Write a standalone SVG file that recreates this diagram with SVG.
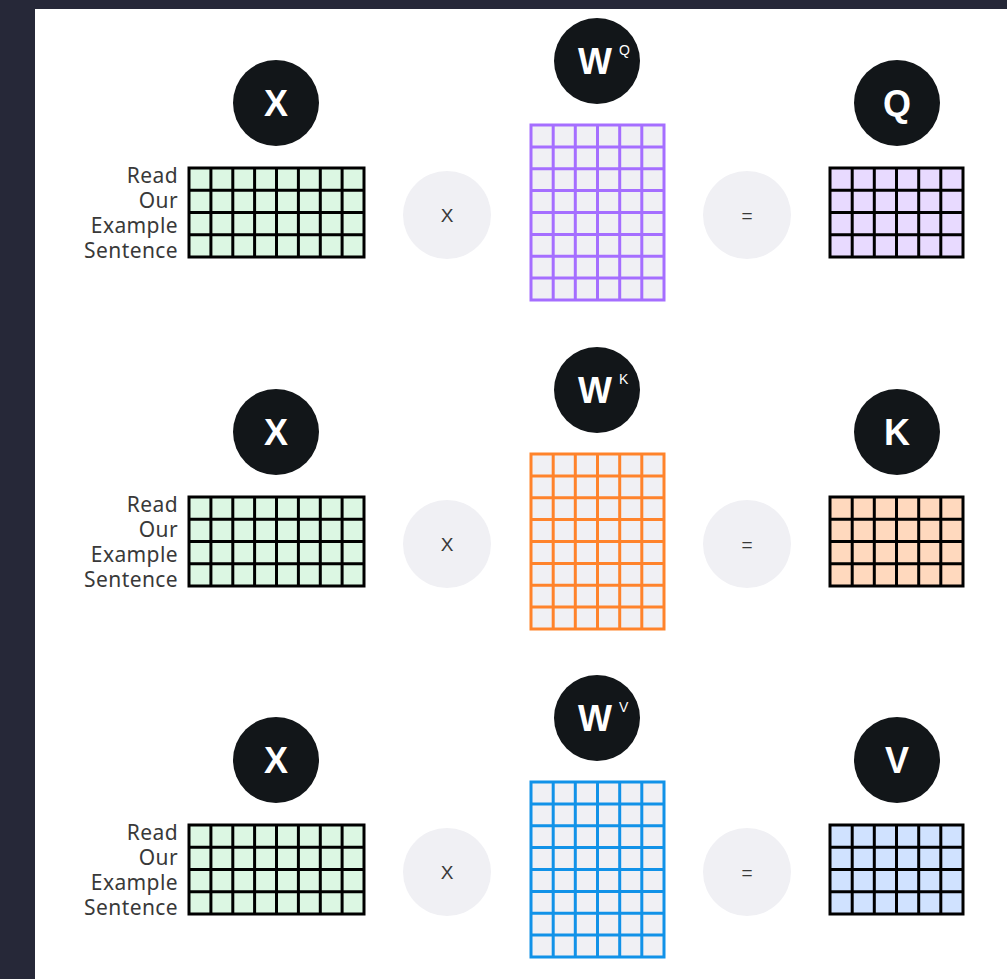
<svg xmlns="http://www.w3.org/2000/svg" width="1007" height="979" viewBox="0 0 1007 979">
<style>
.lbl{font-family:"Noto Sans","Liberation Sans",sans-serif;font-size:21px;fill:#393939;text-anchor:end;letter-spacing:0.4px}
.big{font-family:"Liberation Sans","Noto Sans",sans-serif;font-size:36px;font-weight:bold;fill:#ffffff;text-anchor:middle}
.sup{font-family:"Liberation Sans","Noto Sans",sans-serif;font-size:14px;fill:#ffffff}
.op{font-family:"Liberation Sans","Noto Sans",sans-serif;font-size:19px;fill:#393939;text-anchor:middle}
.dark{fill:#121619}
.opc{fill:#f0f0f4}
.gx{stroke:#000;stroke-width:3;fill:none}
</style>
<rect x="0" y="0" width="1007" height="979" fill="#262838"/>
<rect x="35" y="9" width="972" height="970" fill="#ffffff"/>
<defs>
<g id="xgrid">
<rect x="189" y="168" width="175" height="89" fill="#dcf7e3"/>
<path class="gx" d="M189,168H364V257H189Z M210.9,168V257 M232.8,168V257 M254.6,168V257 M276.5,168V257 M298.4,168V257 M320.3,168V257 M342.1,168V257 M189,190.25H364 M189,212.5H364 M189,234.75H364"/>
<text class="lbl" x="178" y="183">Read</text>
<text class="lbl" x="178" y="208">Our</text>
<text class="lbl" x="178" y="233">Example</text>
<text class="lbl" x="178" y="258">Sentence</text>
<circle class="dark" cx="276" cy="103" r="43"/>
<text class="big" x="276" y="116">X</text>
<circle class="opc" cx="447" cy="215" r="44"/>
<text class="op" x="447" y="222">X</text>
<circle class="opc" cx="747" cy="215" r="44"/>
<text class="op" x="747" y="222">=</text>
</g>
<path id="wlines" fill="none" stroke-width="3" d="M531,125H664V300H531Z M553.2,125V300 M575.3,125V300 M597.5,125V300 M619.7,125V300 M641.8,125V300 M531,146.9H664 M531,168.75H664 M531,190.6H664 M531,212.5H664 M531,234.4H664 M531,256.25H664 M531,278.1H664"/>
<path id="olines" class="gx" d="M830,168H963V257H830Z M852.2,168V257 M874.3,168V257 M896.5,168V257 M918.7,168V257 M940.8,168V257 M830,190.25H963 M830,212.5H963 M830,234.75H963"/>
</defs>

<g id="row-q">
<g id="x-q"><use href="#xgrid"/></g>
<g id="wq">
<circle class="dark" cx="597" cy="61" r="43"/>
<text class="big" x="595" y="74">W</text>
<text class="sup" x="619" y="55">Q</text>
<rect x="531" y="125" width="133" height="175" fill="#f0f0f4"/>
<use href="#wlines" stroke="#a56eff"/>
</g>
<g id="q">
<circle class="dark" cx="897" cy="103" r="43"/>
<text class="big" x="897" y="116">Q</text>
<rect x="830" y="168" width="133" height="89" fill="#e8daff"/>
<use href="#olines"/>
</g>
</g>

<g id="row-k" transform="translate(0,329)">
<g id="x-k"><use href="#xgrid"/></g>
<g id="wk">
<circle class="dark" cx="597" cy="61" r="43"/>
<text class="big" x="595" y="74">W</text>
<text class="sup" x="619" y="55">K</text>
<rect x="531" y="125" width="133" height="175" fill="#f0f0f4"/>
<use href="#wlines" stroke="#ff832b"/>
</g>
<g id="k">
<circle class="dark" cx="897" cy="103" r="43"/>
<text class="big" x="897" y="116">K</text>
<rect x="830" y="168" width="133" height="89" fill="#ffd9be"/>
<use href="#olines"/>
</g>
</g>

<g id="row-v" transform="translate(0,657)">
<g id="x-v"><use href="#xgrid"/></g>
<g id="wv">
<circle class="dark" cx="597" cy="61" r="43"/>
<text class="big" x="595" y="74">W</text>
<text class="sup" x="619" y="55">V</text>
<rect x="531" y="125" width="133" height="175" fill="#f0f0f4"/>
<use href="#wlines" stroke="#1192e8"/>
</g>
<g id="v">
<circle class="dark" cx="897" cy="103" r="43"/>
<text class="big" x="897" y="116">V</text>
<rect x="830" y="168" width="133" height="89" fill="#d0e2ff"/>
<use href="#olines"/>
</g>
</g>
<g id="connectors"></g>
</svg>
